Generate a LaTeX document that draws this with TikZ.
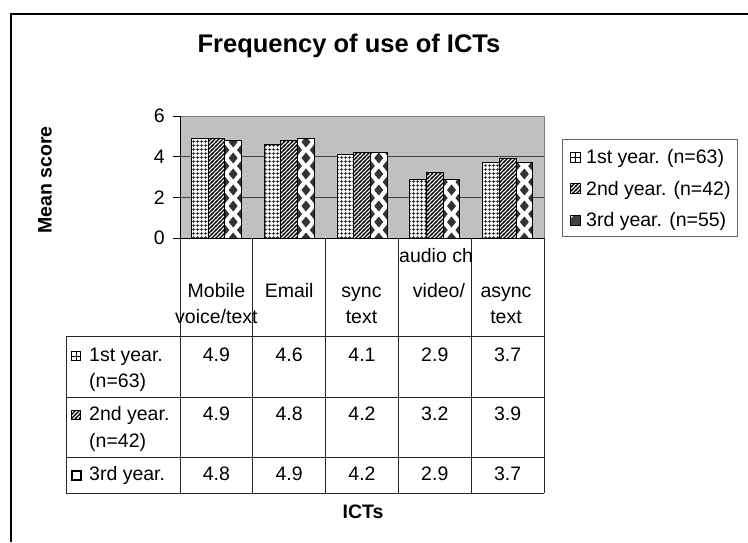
\documentclass[tikz,border=0pt]{standalone}
\usepackage{fontspec}
\setmainfont{Liberation Sans}
\usetikzlibrary{patterns, positioning}
\definecolor{plotbg}{HTML}{C0C0C0}
\definecolor{gridc}{HTML}{404040}

\pgfdeclarepatternformonly{ictgrid}{\pgfpoint{0pt}{0pt}}{\pgfpoint{4pt}{4pt}}{\pgfpoint{4pt}{4pt}}{%
  \pgfsetlinewidth{0.9pt}%
  \pgfpathmoveto{\pgfpoint{0pt}{2pt}}\pgfpathlineto{\pgfpoint{4pt}{2pt}}%
  \pgfpathmoveto{\pgfpoint{2pt}{0pt}}\pgfpathlineto{\pgfpoint{2pt}{4pt}}%
  \pgfusepath{stroke}}
\pgfdeclarepatternformonly{ictstripe}{\pgfpoint{-1pt}{-1pt}}{\pgfpoint{5pt}{5pt}}{\pgfpoint{4pt}{4pt}}{%
  \pgfsetlinewidth{1.3pt}%
  \pgfpathmoveto{\pgfpoint{-1pt}{-1pt}}\pgfpathlineto{\pgfpoint{5pt}{5pt}}%
  \pgfusepath{stroke}}

\begin{document}
\begin{tikzpicture}[x=1pt, y=-1pt, font=\fontsize{19.5}{23}\selectfont,
    lbl/.style={inner sep=0pt, anchor=base},
    lblw/.style={inner sep=0pt, anchor=base west},
    tline/.style={draw=black!85, line width=0.9pt},
    bar/.style={draw=black, line width=0.9pt, preaction={fill=white}},
    key/.style={draw=black, line width=0.7pt, preaction={fill=white}}]

  \useasboundingbox (0,0) rectangle (748,542);
  \draw[line width=1.6pt] (11,542) -- (11,14) -- (748,14);

  \node[lbl, font=\fontsize{25.5}{30}\selectfont\bfseries] (title) at (349,52) {Frequency of use of ICTs};
  \node[rotate=90, inner sep=0pt, font=\fontsize{19.5}{23}\selectfont\bfseries] (ylab) at (45,180) {Mean score};
  \node[lbl, font=\fontsize{19.5}{23}\selectfont\bfseries] (xlab) at (363,518) {ICTs};

  % plot area, one unit per category and per score
  \begin{scope}[shift={(180,238)}, x=72.8pt, y=20.333pt]
    \fill[plotbg] (0,0) rectangle (5,6);
    \draw[gridc, line width=1pt] (0,2) -- (5,2) (0,4) -- (5,4);
    \draw[black!50, line width=0.8pt] (0,6) -- (5,6) -- (5,0);
    \foreach \a/\b/\c [count=\i from 0] in {4.9/4.9/4.8, 4.6/4.8/4.9, 4.1/4.2/4.2, 2.9/3.2/2.9, 3.7/3.9/3.7} {
      \draw[bar, pattern=ictgrid] (\i+0.1566,0) rectangle (\i+0.3860,\a);
      \draw[bar, pattern=ictstripe] (\i+0.3860,0) rectangle (\i+0.6154,\b);
      \fill[white] (\i+0.6154,0) rectangle (\i+0.8448,\c);
      \begin{scope}
        \clip (\i+0.6154,0) rectangle (\i+0.8448,\c);
        \foreach \r in {0,...,7} {
          \fill[black!80] (\i+0.7301,\r*0.787) +(0,5.5pt) -- +(4.5pt,0) -- +(0,-5.5pt) -- +(-4.5pt,0) -- cycle;
          \fill[black!80] (\i+0.6154,\r*0.787+0.3935) +(0,5.5pt) -- +(4.5pt,0) -- +(0,-5.5pt) -- +(-4.5pt,0) -- cycle;
          \fill[black!80] (\i+0.8448,\r*0.787+0.3935) +(0,5.5pt) -- +(4.5pt,0) -- +(0,-5.5pt) -- +(-4.5pt,0) -- cycle;
        }
      \end{scope}
      \draw[draw=black, line width=0.9pt] (\i+0.6154,0) rectangle (\i+0.8448,\c);
    }
    \draw[line width=0.9pt] (0,6) -- (0,0) -- (5,0);
    \foreach \t in {0,2,4,6} {
      \draw[line width=0.9pt] (0,\t) -- ++(-7pt,0);
      \node[anchor=east, inner sep=0pt] (yt\t) at ([xshift=-15pt]0,\t) {\t};
    }
  \end{scope}

  % data table
  \foreach \x in {180,252.8,325.6,398.4,471.2,544}
    \draw[tline] (\x,238) -- (\x,493);
  \draw[tline] (66,336) -- (66,493);
  \foreach \y in {336,397,457,493}
    \draw[tline] (66,\y) -- (544,\y);

  \node[lbl] (hmob) at (216.4,297) {Mobile};
  \node[lbl] (hmob2) at (216.4,323) {voice/text};
  \node[lbl] (hema) at (289.2,297) {Email};
  \node[lbl] (hsyn) at (361.5,297) {sync};
  \node[lbl] (hsyn2) at (361.5,323) {text};
  \begin{scope}
    \clip (398.4,238) rectangle (471.2,336);
    \node[lblw] (haud) at (399,262) {audio ch};
  \end{scope}
  \node[lbl] (hvid) at (439,297) {video/};
  \node[lbl] (hasy) at (506,297) {async};
  \node[lbl] (hasy2) at (506,323) {text};

  \foreach \v [count=\c from 0] in {4.9,4.6,4.1,2.9,3.7}
    \node[lbl] (va\c) at (216.4+\c*72.8,361) {\v};
  \foreach \v [count=\c from 0] in {4.9,4.8,4.2,3.2,3.9}
    \node[lbl] (vb\c) at (216.4+\c*72.8,420) {\v};
  \foreach \v [count=\c from 0] in {4.8,4.9,4.2,2.9,3.7}
    \node[lbl] (vc\c) at (216.4+\c*72.8,480) {\v};

  \draw[key] (71.5,351.5) rectangle ++(9,9);
  \draw[line width=0.7pt] (76,351.5) -- ++(0,9) (71.5,356) -- ++(9,0);
  \draw[key, pattern=ictstripe] (71.5,410) rectangle ++(9,9);
  \draw[key, line width=1.1pt] (72,471) rectangle ++(9,9);
  \node[lblw] (ra1) at (89,361) {1st year.};
  \node[lblw] (ra2) at (89,387) {(n=63)};
  \node[lblw] (rb1) at (89,420) {2nd year.};
  \node[lblw] (rb2) at (89,447) {(n=42)};
  \node[lblw] (rc1) at (89,480) {3rd year.};

  % legend
  \draw[black!60, line width=0.9pt, fill=white] (562,139) rectangle (737,236);
  \draw[key] (570,152) rectangle ++(10,10);
  \draw[line width=0.7pt] (575,152) -- ++(0,10) (570,157) -- ++(10,0);
  \draw[key, pattern=ictstripe] (570,183.5) rectangle ++(10,10);
  \fill[black!75] (570,215) rectangle ++(10,10);
  \fill[white] (570,215) -- ++(4,0) -- ++(-4,4) -- cycle;
  \draw[black, line width=0.7pt] (570,215) rectangle ++(10,10);
  \node[lblw] (lg1) at (586,163.5) {1st year. (n=63)};
  \node[lblw] (lg2) at (586,195) {2nd year. (n=42)};
  \node[lblw] (lg3) at (586,226) {3rd year. (n=55)};
\end{tikzpicture}
\end{document}
